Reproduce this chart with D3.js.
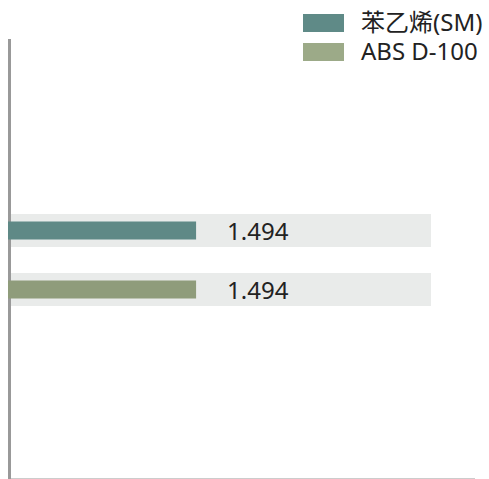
<!DOCTYPE html>
<html>
<head>
<meta charset="utf-8">
<script src="https://cdn.jsdelivr.net/npm/d3@7"></script>
<style>
  body { margin: 0; background: #fff; }
  text { font-family: "Noto Sans", "Noto Sans CJK TC", sans-serif; fill: #222; }
</style>
</head>
<body>
<div id="chart"></div>
<script>
// data
let series = ["苯乙烯(SM)", "ABS D-100"];
let values = [1.494, 1.494];
let backValue = 3.37; // grey track behind each bar
let barColors = ["#5f8986", "#8f9c7b"];
let legendColors = ["#5f8a87", "#9caa88"];

let width = 489;
let height = 479;

let svg = d3.select('#chart')
    .append('svg')
        .attr('width', width)
        .attr('height', height);

let x = d3.scaleLinear().domain([0, backValue]).range([9, 431]);
let y = d3.scaleBand().domain(series).range([201, 319]);

let data = series.map(function (s, i) {
    return { name: s, value: values[i], color: barColors[i], legend: legendColors[i] };
});

// bottom line
svg.append('line')
    .attr('x1', 10).attr('x2', 475)
    .attr('y1', 478.5).attr('y2', 478.5)
    .attr('stroke', '#cccccc')
    .attr('stroke-width', 1);

// grey tracks
svg.selectAll('.track')
    .data(data)
    .enter()
    .append('rect')
        .attr('class', 'track')
        .attr('x', x(0) + 2)
        .attr('y', function (d) { return y(d.name) + y.bandwidth() / 2 - 16.5; })
        .attr('width', x(backValue) - x(0) - 2)
        .attr('height', 33)
        .attr('fill', '#e9ebea');

// left axis line
svg.append('line')
    .attr('x1', 9.5).attr('x2', 9.5)
    .attr('y1', 39).attr('y2', 479)
    .attr('stroke', '#999999')
    .attr('stroke-width', 3);

// bars
svg.selectAll('.bar')
    .data(data)
    .enter()
    .append('rect')
        .attr('class', 'bar')
        .attr('x', x(0) - 1)
        .attr('y', function (d) { return y(d.name) + y.bandwidth() / 2 - 9; })
        .attr('width', function (d) { return x(d.value) - x(0) + 1; })
        .attr('height', 18)
        .attr('fill', function (d) { return d.color; });

// value labels
svg.selectAll('.label')
    .data(data)
    .enter()
    .append('text')
        .attr('class', 'label')
        .attr('x', function (d) { return x(d.value) + 31; })
        .attr('y', function (d) { return y(d.name) + y.bandwidth() / 2 + 9; })
        .attr('font-size', '24px')
        .text(function (d) { return d.value.toFixed(3); });

// legend
let legend = svg.selectAll('.legend')
    .data(data)
    .enter()
    .append('g')
        .attr('class', 'legend')
        .attr('transform', function (d, i) { return "translate(303," + (14 + i * 29) + ")"; });

legend.append('rect')
    .attr('width', 41)
    .attr('height', 18)
    .attr('fill', function (d) { return d.legend; });

legend.append('text')
    .attr('x', 58)
    .attr('y', 17)
    .attr('font-size', '24px')
    .text(function (d) { return d.name; });
</script>
</body>
</html>
